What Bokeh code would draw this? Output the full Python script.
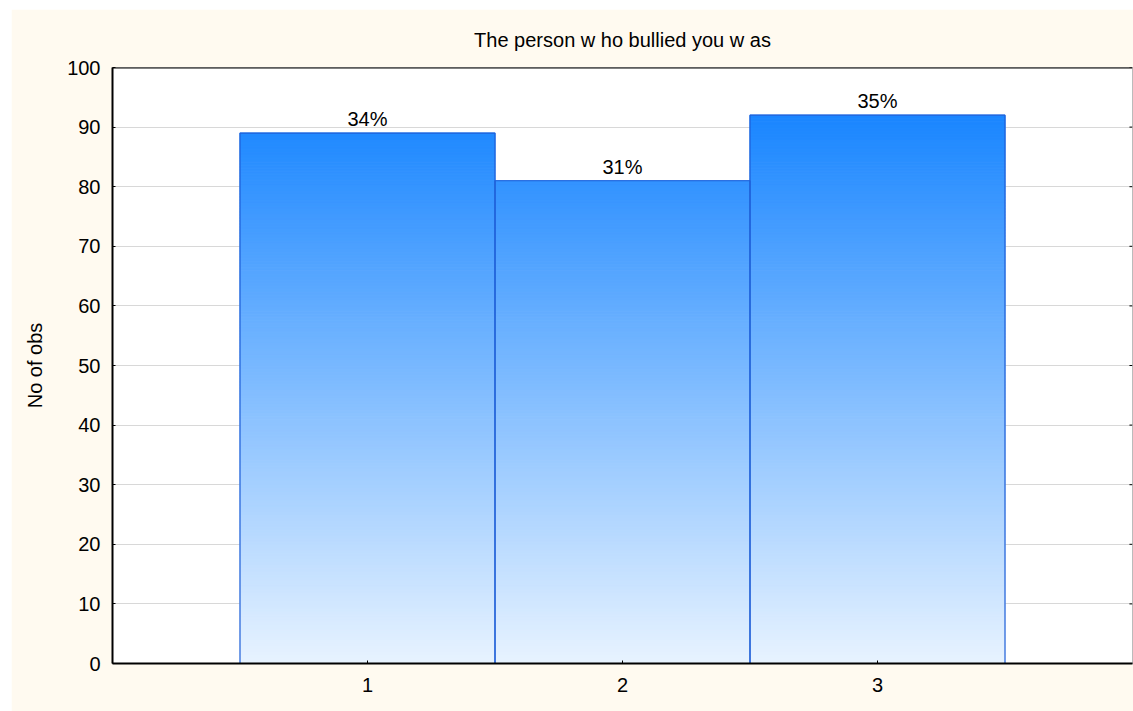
from bokeh.plotting import figure
from bokeh.models import Range1d, FixedTicker, ColumnDataSource, LabelSet, Span
from bokeh.core.properties import value
from bokeh.embed import file_html
from bokeh.resources import INLINE

# ---- data ----
categories = ["1", "2", "3"]
counts = [89, 81, 92]
y_ticks = [0, 10, 20, 30, 40, 50, 60, 70, 80, 90, 100]
title_text = "The person w ho bullied you w as"
y_label = "No of obs"

FONT = "Liberation Sans"
x_pos = [i + 1 for i in range(len(categories))]
total = sum(counts)
pct = [f"{round(c / total * 100)}%" for c in counts]

# gradient colours
dark = (26, 134, 255)
light = (232, 243, 255)
gmax = max(counts)


def grad(yv):
    t = min(max(yv / gmax, 0), 1)
    r = round(light[0] + (dark[0] - light[0]) * t)
    g = round(light[1] + (dark[1] - light[1]) * t)
    b = round(light[2] + (dark[2] - light[2]) * t)
    return "#%02x%02x%02x" % (r, g, b)


step = 0.5
sl, sr, sb, st, sc = [], [], [], [], []
for xp, c in zip(x_pos, counts):
    y0 = 0.0
    while y0 < c:
        y1 = min(y0 + step, c)
        sl.append(xp - 0.5)
        sr.append(xp + 0.5)
        sb.append(y0)
        st.append(y1)
        sc.append(grad((y0 + y1) / 2))
        y0 = y1

p = figure(width=1122, height=702, x_range=Range1d(0, 4), y_range=Range1d(0, 100),
           output_backend="svg", toolbar_location=None, margin=(9, 0, 0, 11),
           min_border_left=101, min_border_top=57, min_border_bottom=48, min_border_right=1)

p.background_fill_color = "white"
p.border_fill_color = "#FFFAF0"
p.outline_line_color = "#BBBBBB"
p.outline_line_width = 1

p.title.text = title_text
p.title.align = "center"
p.title.text_font = FONT
p.title.text_font_size = "20px"
p.title.text_font_style = "normal"
p.title.text_color = "black"
p.title.standoff = 34

# gradient slices (outlined in their own colour to hide seams)
p.quad(left=sl, right=sr, bottom=sb, top=st, fill_color=sc, line_color=sc, line_width=1)
# bar outlines
bars = ColumnDataSource(dict(x=x_pos, top=counts, pct=pct))
p.vbar(x="x", top="top", width=1.0, bottom=0, source=bars, fill_color=None,
       line_color="#1F5FD8", line_width=1.2)

labels = LabelSet(x="x", y="top", text="pct", source=bars, text_align="center",
                  text_baseline="alphabetic", y_offset=7, text_font=value(FONT),
                  text_font_size="20px", text_color="black")
p.add_layout(labels)

# grid
p.xgrid.visible = False
p.ygrid.ticker = FixedTicker(ticks=y_ticks)
p.ygrid.grid_line_color = "#D8D8D8"
p.ygrid.grid_line_width = 1

# axes
xa = p.xaxis[0]
xa.ticker = FixedTicker(ticks=x_pos)
xa.major_label_overrides = {xp: c for xp, c in zip(x_pos, categories)}
ya = p.yaxis[0]
ya.ticker = FixedTicker(ticks=y_ticks)
ya.axis_label = y_label
for ax in (xa, ya):
    ax.axis_line_color = "black"
    ax.axis_line_width = 2
    ax.major_tick_in = 3
    ax.major_tick_out = 0
    ax.major_tick_line_color = "black"
    ax.minor_tick_line_color = None
    ax.major_label_text_font = FONT
    ax.major_label_text_font_size = "20px"
    ax.major_label_text_color = "black"
    ax.axis_label_text_font = FONT
    ax.axis_label_text_font_size = "20px"
    ax.axis_label_text_font_style = "normal"
    ax.axis_label_text_color = "black"
xa.major_label_standoff = 14
ya.major_label_standoff = 12
ya.axis_label_standoff = 18

# small inward ticks on the right frame edge
xr_end = 4
tick_len = 0.012
p.segment(x0=[xr_end - tick_len] * len(y_ticks), x1=[xr_end] * len(y_ticks),
          y0=y_ticks, y1=y_ticks, line_color="black", line_width=1)

p.add_layout(Span(location=100, dimension="width", line_color="black", line_width=2))

open("out.html", "w").write(file_html(p, INLINE))
